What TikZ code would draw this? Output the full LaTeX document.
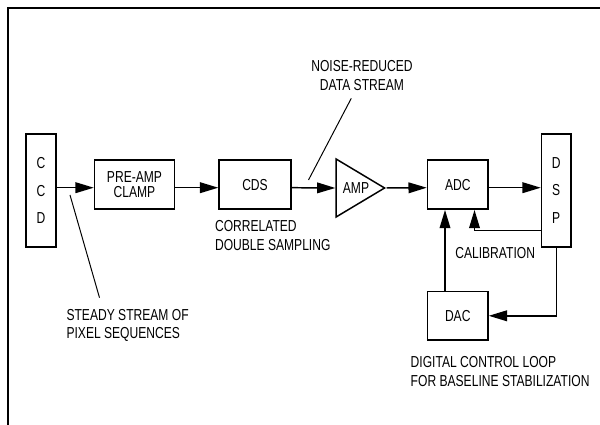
\documentclass[tikz,border=0pt]{standalone}
\usepackage{fontspec}
\setmainfont{Liberation Sans}[FakeStretch=0.76]
\usetikzlibrary{arrows.meta,shapes.geometric}

\begin{document}
\begin{tikzpicture}[
  x=0.025cm, y=-0.025cm,
  >={Triangle[length=13pt,width=7.6pt]},
  line width=1.05pt,
  block/.style  = {draw, inner sep=0pt, align=center,
                   font=\fontsize{11.3}{10.7}\selectfont},
  tall/.style   = {block, minimum width=30*\px, minimum height=113*\px,
                   font=\fontsize{11.3}{19.4}\selectfont},
  note/.style   = {inner sep=0pt, font=\fontsize{11.3}{13}\selectfont},
  leader/.style = {line width=0.7pt}
]

% ---- constants ----
\def\px{0.025cm}     % one unit of the grid
\def\boxh{49}        % height of the small blocks

\useasboundingbox (0,0) rectangle (600,425);

% ---- frame ----
\draw[line width=1.85pt] (7.9,425) -- (7.9,7.9) -- (600,7.9);

% ---- signal chain ----
\node[tall] (ccd) at (41,190.5) {C\\C\\D};
\node[block, minimum width=80*\px, minimum height=\boxh*\px] (pre) at (134.5,184.7) {PRE-AMP\\CLAMP};
\node[block, minimum width=72*\px, minimum height=\boxh*\px] (cds) at (255,184.7) {CDS};
\node[draw, isosceles triangle, isosceles triangle stretches, inner sep=0pt,
      minimum width=58*\px, minimum height=48.5*\px, anchor=apex] (amp) at (386.5,188) {};
\node[block, draw=none] (amptext) at (356,188) {AMP};
\node[block, minimum width=60.5*\px, minimum height=\boxh*\px] (adc) at (457.75,184.7) {ADC};
\node[tall, minimum width=29.5*\px] (dsp) at (556.25,190.5) {D\\S\\P};
\node[block, minimum width=60.5*\px, minimum height=48.3*\px] (dac) at (457.75,315.8) {DAC};

% ---- notes ----
\node[note, anchor=north, align=center] (noise) at (362,60) {NOISE-REDUCED\\DATA STREAM};
\node[note, anchor=north west, align=left] (corr) at (214.3,220) {CORRELATED\\DOUBLE SAMPLING};
\node[note, anchor=north west, align=left] (steady) at (65.8,308.3) {STEADY STREAM OF\\PIXEL SEQUENCES};
\node[note, anchor=north west] (calib) at (454.6,246.7) {CALIBRATION};
\node[note, anchor=north west, align=left] (loop) at (410,356) {DIGITAL CONTROL LOOP\\FOR BASELINE STABILIZATION};

% ---- arrows ----
\coordinate (row) at (0,187.7);
\draw[->] (ccd.east |- row) -- (pre.west |- row);
\draw[->] (pre.east |- row) -- (cds.west |- row);
\draw[->] (cds.east |- row) -- (amp.west);
\draw[->] (amp.apex) -- (adc.west |- row);
\draw[->] (adc.east |- row) -- (dsp.west |- row);

% calibration and control loop
\draw[->] ([yshift=-40.2*\px]dsp.west) -| ([xshift=16.75*\px]adc.south);
\draw[->] ([xshift=-12.75*\px]dac.north) -- ([xshift=-12.75*\px]adc.south);
\draw[->] (dsp.south) |- (dac.east);

% ---- leader lines ----
\coordinate (pixtap)  at (70,195);
\coordinate (pixfoot) at (99.5,297.7);
\coordinate (cdstap)  at (308.5,180);
\coordinate (cdsfoot) at (351.3,98.3);
\draw[leader] (pixtap) -- (pixfoot);
\draw[leader] (cdstap) -- (cdsfoot);

\end{tikzpicture}
\end{document}
